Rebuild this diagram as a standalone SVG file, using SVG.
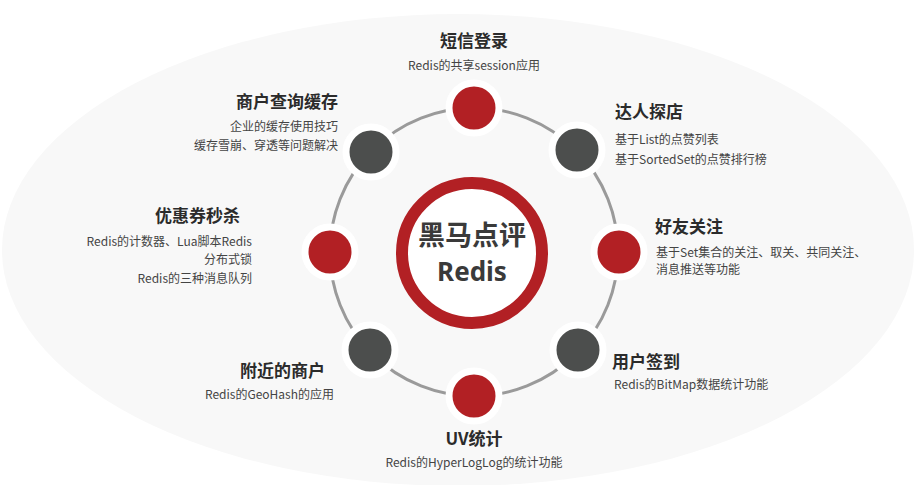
<svg xmlns="http://www.w3.org/2000/svg" width="917" height="485" viewBox="0 0 917 485">
<style>
.t{font-family:"Noto Sans CJK SC","Noto Sans",sans-serif;font-weight:bold;font-size:17px;fill:#2b2b2b}
.d{font-family:"Noto Sans CJK SC","Noto Sans",sans-serif;font-size:12px;fill:#444}
.r{fill:#b22024;stroke:#fff;stroke-width:7}
.g{fill:#4c4e4d;stroke:#fff;stroke-width:7}
</style>
<rect width="917" height="485" fill="#fff"/>
<ellipse cx="458" cy="250" rx="456" ry="236" fill="#f8f8f8"/>
<g id="connectors"><circle cx="474" cy="252" r="144" fill="none" stroke="#9a9a9a" stroke-width="3"/></g>
<g id="center"><circle cx="472" cy="253" r="70" fill="#fff" stroke="#b22024" stroke-width="12"/>
<text x="472" y="245" text-anchor="middle" style="font-family:'Noto Sans CJK SC',sans-serif;font-weight:bold;font-size:27px;fill:#3a3a3a">黑马点评</text>
<text x="472" y="281" text-anchor="middle" style="font-family:'Noto Sans','Noto Sans CJK SC',sans-serif;font-weight:bold;font-size:26px;fill:#3a3a3a">Redis</text></g>
<g id="n1"><circle class="r" cx="474" cy="108" r="25"/><text class="t" x="474" y="47" text-anchor="middle">短信登录</text><text class="d" x="474" y="70" text-anchor="middle">Redis的共享session应用</text></g>
<g id="n2"><circle class="g" cx="577" cy="150" r="25"/><text class="t" x="615" y="118">达人探店</text><text class="d" x="615" y="144">基于List的点赞列表</text><text class="d" x="615" y="164">基于SortedSet的点赞排行榜</text></g>
<g id="n3"><circle class="r" cx="619" cy="252" r="25"/><text class="t" x="655" y="233">好友关注</text><text class="d" x="656" y="257">基于Set集合的关注、取关、共同关注、</text><text class="d" x="656" y="274">消息推送等功能</text></g>
<g id="n4"><circle class="g" cx="578" cy="350" r="25"/><text class="t" x="612" y="368">用户签到</text><text class="d" x="614" y="389">Redis的BitMap数据统计功能</text></g>
<g id="n5"><circle class="r" cx="474" cy="396" r="25"/><text class="t" x="474" y="445" text-anchor="middle">UV统计</text><text class="d" x="474" y="467" text-anchor="middle">Redis的HyperLogLog的统计功能</text></g>
<g id="n6"><circle class="g" cx="370" cy="350" r="25"/><text class="t" x="325" y="377" text-anchor="end">附近的商户</text><text class="d" x="334" y="399" text-anchor="end">Redis的GeoHash的应用</text></g>
<g id="n7"><circle class="r" cx="330" cy="252" r="25"/><text class="t" x="240" y="222" text-anchor="end">优惠券秒杀</text><text class="d" x="252" y="246" text-anchor="end">Redis的计数器、Lua脚本Redis</text><text class="d" x="252" y="264" text-anchor="end">分布式锁</text><text class="d" x="252" y="283" text-anchor="end">Redis的三种消息队列</text></g>
<g id="n8"><circle class="g" cx="371" cy="152" r="25"/><text class="t" x="338" y="108" text-anchor="end">商户查询缓存</text><text class="d" x="338" y="131" text-anchor="end">企业的缓存使用技巧</text><text class="d" x="338" y="150" text-anchor="end">缓存雪崩、穿透等问题解决</text></g>
</svg>
